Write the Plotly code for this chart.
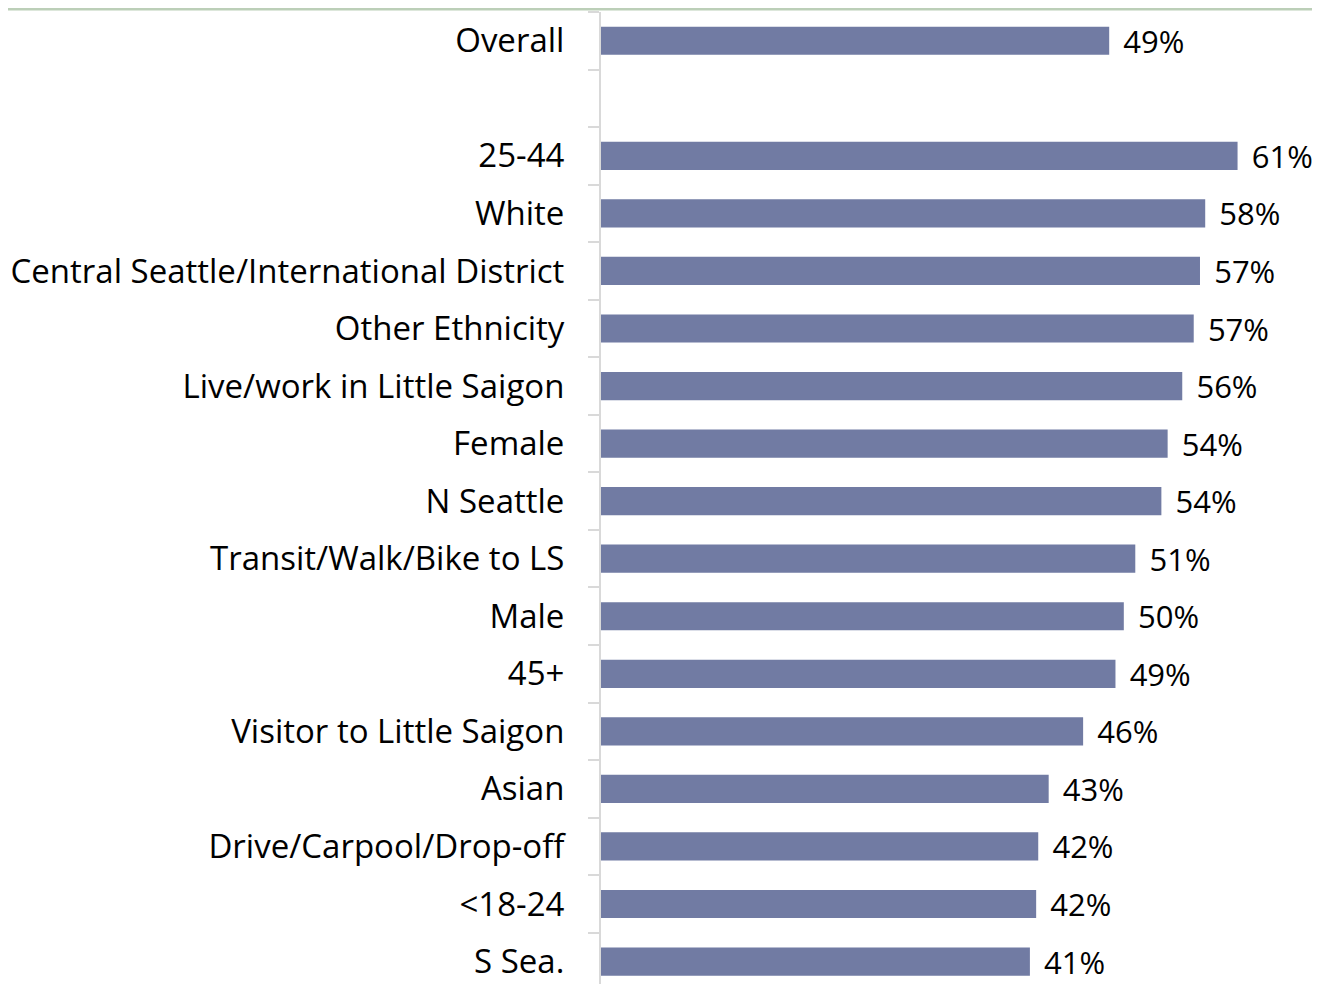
import plotly.graph_objects as go

# ── Data ───────────────────────────────────────────────────────────────────────
CATEGORIES = [
    "Overall",
    " ",
    "25-44",
    "White",
    "Central Seattle/International District",
    "Other Ethnicity",
    "Live/work in Little Saigon",
    "Female",
    "N Seattle",
    "Transit/Walk/Bike to LS",
    "Male",
    "45+",
    "Visitor to Little Saigon",
    "Asian",
    "Drive/Carpool/Drop-off",
    "<18-24",
    "S Sea.",
]
VALUES = [
    48.7, None, 61.0, 57.9, 57.4, 56.8, 55.7, 54.3, 53.7,
    51.2, 50.1, 49.3, 46.2, 42.9, 41.9, 41.7, 41.1,
]

BAR_COLOR = "#717ba3"
AXIS_GREY = "#d9d9d9"
FONT = "Open Sans"

fig = go.Figure(
    go.Bar(
        x=VALUES,
        y=CATEGORIES,
        orientation="h",
        width=0.49,
        marker=dict(color=BAR_COLOR, line=dict(width=0)),
        texttemplate="\u00a0\u200a%{x:.0f}%",
        textposition="outside",
        constraintext="none",
        textfont=dict(family=FONT, size=31, color="#000000"),
        cliponaxis=False,
        hoverinfo="skip",
    )
)

fig.update_xaxes(
    range=[0, 68.9],
    visible=False,
    showgrid=False,
    zeroline=False,
)
fig.update_yaxes(
    type="category",
    categoryorder="array",
    categoryarray=CATEGORIES,
    range=[16.39, -0.5],
    tickson="boundaries",
    ticks="outside",
    ticklen=11,
    tickwidth=2,
    tickcolor=AXIS_GREY,
    showline=True,
    linecolor=AXIS_GREY,
    linewidth=2,
    showgrid=False,
    ticklabelstandoff=28,
    tickfont=dict(family=FONT, size=33, color="#000000"),
)

# thin green-grey rule along the top edge of the page
fig.add_shape(
    type="line",
    xref="paper", yref="paper",
    x0=-1, x1=2, y0=1 + 3 / 972, y1=1 + 3 / 972,
    line=dict(color="#bccfb8", width=3),
)

fig.update_layout(
    width=1312,
    height=976,
    margin=dict(l=593, r=0, t=4, b=0),
    plot_bgcolor="white",
    paper_bgcolor="white",
    showlegend=False,
    bargap=0.5,
)

fig.write_html("out.html")
